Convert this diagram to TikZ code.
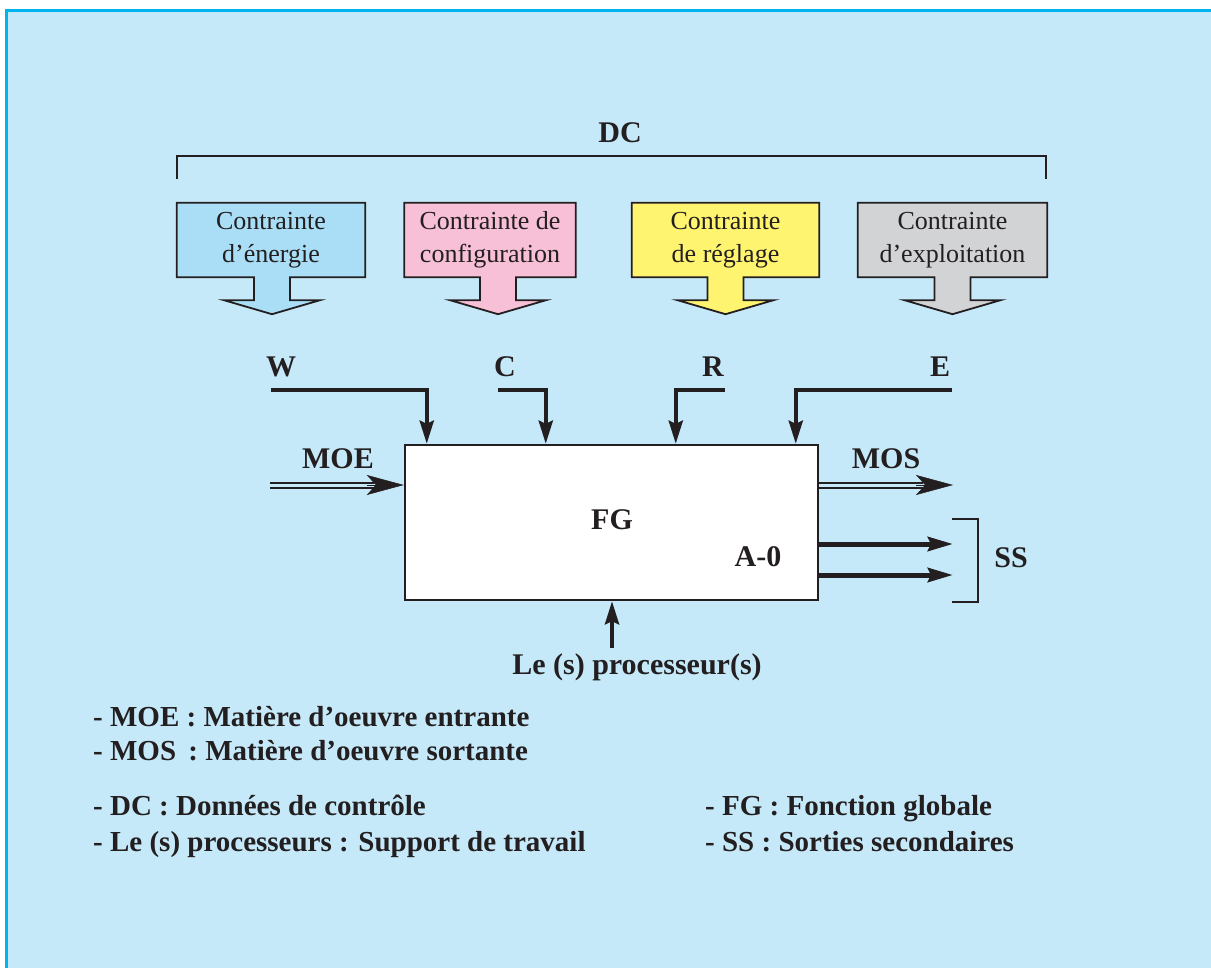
\documentclass[tikz,border=0pt]{standalone}
\usepackage{fontspec}
\setmainfont{Liberation Serif}
\usetikzlibrary{arrows.meta,calc}
\definecolor{panel}{HTML}{C6E9F9}
\definecolor{panelborder}{HTML}{00B4F0}
\definecolor{cblue}{HTML}{A9DEF6}
\definecolor{cpink}{HTML}{F7C0D7}
\definecolor{cyellow}{HTML}{FFF46F}
\definecolor{cgray}{HTML}{D2D3D5}
\definecolor{ink}{HTML}{231F20}
\pgfdeclarelayer{back}
\pgfdeclarelayer{bg}
\pgfsetlayers{back,bg,main}
\newcommand\cshape[3]{%
  \filldraw[fill=#2, draw=ink, line width=1.8pt, line join=miter]
   (#1.north west) -- (#1.north east) -- (#1.south east)
   -- ($(#1.south)+(#3+18,0)$) -- ($(#1.south)+(#3+18,23)$) -- ($(#1.south)+(#3+48,23)$)
   -- ($(#1.south)+(#3,37)$) -- ($(#1.south)+(#3-48,23)$) -- ($(#1.south)+(#3-18,23)$)
   -- ($(#1.south)+(#3-18,0)$) -- (#1.south west) -- cycle;}
\begin{document}
\begin{tikzpicture}[x=1pt,y=-1pt,
  lbl/.style={font=\fontsize{30}{32}\selectfont\bfseries, text=ink, inner sep=0pt},
  leg/.style={font=\fontsize{29}{32}\selectfont\bfseries, text=ink, anchor=base west, inner sep=0pt},
  ctext/.style={font=\fontsize{26}{33}\selectfont, text=ink, align=center, inner sep=0pt, minimum height=74pt},
  ctrl/.style={line width=4pt, draw=ink, line join=miter, -{Stealth[length=23pt,width=14pt,inset=3pt]}},
  dbl/.style={draw=ink, line width=2pt, double=panel, double distance=3pt},
  bighead/.style={draw=ink, fill=ink, line width=0.5pt, -{Stealth[length=37pt,width=20pt,inset=9pt]}},
  ssarr/.style={draw=ink, line width=5pt, -{Stealth[length=25pt,width=14pt,inset=3pt]}},
  brk/.style={draw=ink, line width=2pt, line join=miter}
]
\useasboundingbox (0,0) rectangle (1211,968);
\begin{pgfonlayer}{back}
\fill[white] (0,0) rectangle (1211,968);
\fill[panel] (6,11) rectangle (1211,968);
\draw[panelborder, line width=3pt] (6.2,968) -- (6.2,11) -- (1211,11);
\end{pgfonlayer}

% DC bracket
\node[lbl] (dc) at (620,133) {DC};
\coordinate (dcL) at (177,179);
\coordinate (dcR) at (1046,179);
\draw[brk] (dcL) -- (dcL |- 0,156) -- (dcR |- 0,156) -- (dcR);

% constraint boxes
\node[ctext, minimum width=188pt] (k1) at (271,240) {Contrainte\\d’énergie};
\node[ctext, minimum width=171pt] (k2) at (490,240) {Contrainte de\\configuration};
\node[ctext, minimum width=187pt] (k3) at (725.5,240) {Contrainte\\de réglage};
\node[ctext, minimum width=189pt] (k4) at (952.5,240) {Contrainte\\d’exploitation};
\begin{pgfonlayer}{bg}
\cshape{k1}{cblue}{1}
\cshape{k2}{cpink}{8}
\cshape{k3}{cyellow}{0}
\cshape{k4}{cgray}{0}
\end{pgfonlayer}

% main box
\node[draw=ink, line width=2.5pt, fill=white, minimum width=413pt, minimum height=155pt, inner sep=0pt] (fg) at (611.5,522.5) {};
\node[lbl] (fgl) at (612,520) {FG};
\node[lbl] (a0) at (758,557) {A-0};

% control inputs
\node[lbl] (w) at (281,367) {W};
\node[lbl] (c) at (505,367) {C};
\node[lbl] (r) at (713,367) {R};
\node[lbl] (e) at (940,367) {E};
\coordinate (w0) at (271,390);
\coordinate (c0) at (498,390);
\coordinate (r0) at (725,390);
\coordinate (e0) at (952,390);
\coordinate (wIn) at ($(fg.north west)+(23,0)$);
\coordinate (cIn) at ($(fg.north west)+(142,0)$);
\coordinate (rIn) at ($(fg.north west)+(272,0)$);
\coordinate (eIn) at ($(fg.north west)+(392,0)$);
\draw[ctrl] (w0) -| (wIn);
\draw[ctrl] (c0) -| (cIn);
\draw[ctrl] (r0) -| (rIn);
\draw[ctrl] (e0) -| (eIn);

% MOE
\node[lbl] (moe) at (338,459) {MOE};
\coordinate (moe0) at (270,485);
\coordinate (moeIn) at (fg.west |- moe0);
\draw[dbl] (moe0) -- ($(moeIn)+(-30,0)$);
\draw[bighead] ($(moeIn)+(-37,0)$) -- (moeIn);

% MOS
\node[lbl] (mos) at (886,459) {MOS};
\coordinate (mosEnd) at (953,485);
\coordinate (mosOut) at (fg.east |- mosEnd);
\draw[dbl] (mosOut) -- ($(mosEnd)+(-30,0)$);
\draw[bighead] ($(mosEnd)+(-37,0)$) -- (mosEnd);

% SS
\coordinate (ss1) at (953,544);
\coordinate (ss2) at (953,575);
\draw[ssarr] (fg.east |- ss1) -- (ss1);
\draw[ssarr] (fg.east |- ss2) -- (ss2);
\coordinate (sbT) at (952,519);
\coordinate (sbB) at (952,602);
\draw[brk] (sbT) -- ++(26,0) -- ($(sbB)+(26,0)$) -- (sbB);
\node[lbl] (ss) at (1011,558) {SS};

% processor
\coordinate (p0) at (612,648);
\draw[ctrl] (p0) -- (fg.south -| p0);
\node[lbl] (proc) at (637,667) {Le (s) processeur(s)};

% legend
\node[leg] (l1) at (93,726) {- MOE : Matière d’oeuvre entrante};
\node[leg] (l2) at (93,760) {- MOS\hspace{5pt} : Matière d’oeuvre sortante};
\node[leg] (l3) at (93,815) {- DC : Données de contrôle};
\node[leg] (l4) at (93,851) {- Le (s) processeurs : Support de travail};
\node[leg] (l5) at (705,815) {- FG : Fonction globale};
\node[leg] (l6) at (705,851) {- SS : Sorties secondaires};
\end{tikzpicture}
\end{document}
